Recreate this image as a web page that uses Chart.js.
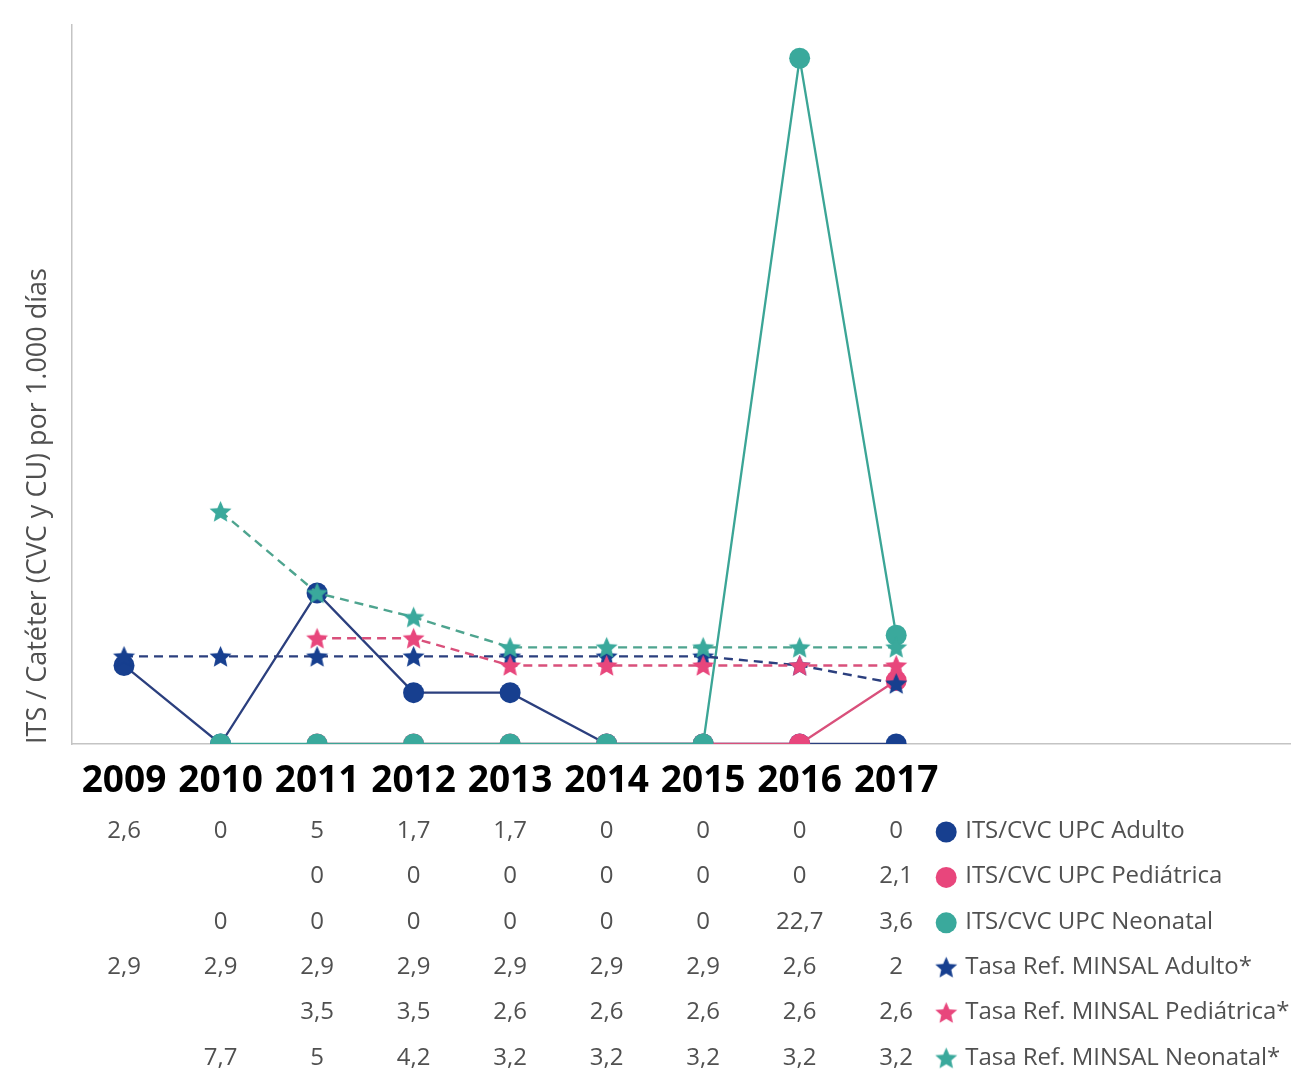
<!DOCTYPE html>
<html>
<head>
<meta charset="utf-8">
<script src="https://cdn.jsdelivr.net/npm/chart.js@4/dist/chart.umd.min.js"></script>
<style>
  html, body { margin: 0; padding: 0; background: #fff; }
  #wrap { width: 1313px; height: 1081px; position: relative; }
</style>
</head>
<body>
<div id="wrap"><canvas id="c"></canvas></div>
<script>
// Years on the horizontal axis
const years = ['2009', '2010', '2011', '2012', '2013', '2014', '2015', '2016', '2017'];

// ITS / CVC rates per 1.000 catheter days
const adulto       = [2.6, 0, 5, 1.7, 1.7, 0, 0, 0, 0];
const pediatrica   = [null, null, 0, 0, 0, 0, 0, 0, 2.1];
const neonatal     = [null, 0, 0, 0, 0, 0, 0, 22.7, 3.6];

// MINSAL reference rates
const refAdulto     = [2.9, 2.9, 2.9, 2.9, 2.9, 2.9, 2.9, 2.6, 2];
const refPediatrica = [null, null, 3.5, 3.5, 2.6, 2.6, 2.6, 2.6, 2.6];
const refNeonatal   = [null, 7.7, 5, 4.2, 3.2, 3.2, 3.2, 3.2, 3.2];

const seriesNames = [
  'ITS/CVC UPC Adulto',
  'ITS/CVC UPC Pediátrica',
  'ITS/CVC UPC Neonatal',
  'Tasa Ref. MINSAL Adulto*',
  'Tasa Ref. MINSAL Pediátrica*',
  'Tasa Ref. MINSAL Neonatal*'
];

const BLUE = '#173f8f', BLUE_LINE = '#2b3f7e';
const PINK = '#e8467c', PINK_LINE = '#d9507b';
const TEAL = '#3aa99c', TEAL_LINE = '#3ba596', TEAL_DASH = '#4ea48f';
const TEXT = '#505050';

// Filled five-point star used as a point style
function starImage(color, r) {
  const size = Math.ceil(r * 2 + 2);
  const cv = document.createElement('canvas');
  cv.width = size; cv.height = size;
  const g = cv.getContext('2d');
  const cx = size / 2, cy = size / 2 + r * 0.08, inner = r * 0.46;
  g.beginPath();
  for (let k = 0; k < 10; k++) {
    const rad = k % 2 === 0 ? r : inner;
    const a = -Math.PI / 2 + k * Math.PI / 5;
    const px = cx + rad * Math.cos(a), py = cy + rad * Math.sin(a);
    if (k === 0) g.moveTo(px, py); else g.lineTo(px, py);
  }
  g.closePath();
  g.fillStyle = color;
  g.fill();
  return cv;
}

const starBlue = starImage(BLUE, 11.5);
const starPink = starImage(PINK, 11.5);
const starTeal = starImage(TEAL, 11.5);

const toPoints = arr => arr.map((v, i) => ({ x: i, y: v }));

function circleSet(label, arr, color, lineColor, order) {
  return {
    label, data: toPoints(arr), order,
    borderColor: lineColor, borderWidth: 2.3,
    pointStyle: 'circle', pointRadius: 10.5, pointHoverRadius: 10.5,
    pointBackgroundColor: color, pointBorderColor: color, pointBorderWidth: 0,
    tension: 0, fill: false
  };
}
function starSet(label, arr, img, lineColor, order) {
  return {
    label, data: toPoints(arr), order,
    borderColor: lineColor, borderWidth: 2.4, borderDash: [9, 6],
    pointStyle: img, pointRadius: 11, pointHoverRadius: 11,
    tension: 0, fill: false
  };
}

const tableRows = [
  { values: adulto,        marker: 'circle', color: BLUE },
  { values: pediatrica,    marker: 'circle', color: PINK },
  { values: neonatal,      marker: 'circle', color: TEAL },
  { values: refAdulto,     marker: starBlue },
  { values: refPediatrica, marker: starPink },
  { values: refNeonatal,   marker: starTeal }
];

const fmt = v => String(v).replace('.', ',');

// Data table with legend keys under the x axis
const tablePlugin = {
  id: 'dataTable',
  afterDraw(chart) {
    const { ctx, chartArea, scales: { x } } = chart;
    const rowTop = chartArea.bottom + 87;
    const rowStep = 45.4;
    const keyX = x.getPixelForValue(8) + 50;
    ctx.save();
    ctx.font = '24px "Open Sans"';
    ctx.textBaseline = 'middle';
    tableRows.forEach((row, r) => {
      const y = rowTop + r * rowStep;
      ctx.textAlign = 'center';
      ctx.fillStyle = TEXT;
      row.values.forEach((v, i) => {
        if (v === null) return;
        ctx.fillText(fmt(v), x.getPixelForValue(i), y);
      });
      if (row.marker === 'circle') {
        ctx.beginPath();
        ctx.arc(keyX, y + 1, 10.5, 0, Math.PI * 2);
        ctx.fillStyle = row.color;
        ctx.fill();
      } else {
        const img = row.marker;
        ctx.drawImage(img, keyX - img.width / 2, y - img.height / 2);
      }
      ctx.fillStyle = TEXT;
      ctx.textAlign = 'left';
      ctx.fillText(seriesNames[r], keyX + 19, y);
    });
    ctx.restore();
  }
};

new Chart(document.getElementById('c'), {
  type: 'line',
  data: {
    datasets: [
      circleSet(seriesNames[0], adulto, BLUE, BLUE_LINE, 5),
      circleSet(seriesNames[1], pediatrica, PINK, PINK_LINE, 4),
      circleSet(seriesNames[2], neonatal, TEAL, TEAL_LINE, 3),
      starSet(seriesNames[3], refAdulto, starBlue, BLUE_LINE, 2),
      starSet(seriesNames[4], refPediatrica, starPink, PINK_LINE, 1),
      starSet(seriesNames[5], refNeonatal, starTeal, TEAL_DASH, 0)
    ]
  },
  options: {
    responsive: true,
    maintainAspectRatio: false,
    animation: false,
    layout: { padding: { top: 25, right: 23, left: 0, bottom: 0 } },
    plugins: { legend: { display: false }, tooltip: { enabled: false } },
    scales: {
      x: {
        type: 'linear',
        min: -0.539,
        max: 12.08,
        grid: { display: false, drawTicks: false },
        border: { color: '#c4c4c4', width: 1.5 },
        afterBuildTicks: axis => { axis.ticks = years.map((_, i) => ({ value: i })); },
        afterFit: axis => { axis.height = 337; },
        ticks: {
          autoSkip: false, maxRotation: 0, minRotation: 0,
          padding: 15,
          color: '#000000',
          font: { family: '"Open Sans"', size: 37, weight: 'bold' },
          callback: v => years[v] ?? ''
        }
      },
      y: {
        min: 0,
        max: 23.8,
        grid: { display: false, drawTicks: false },
        border: { color: '#c4c4c4', width: 1.5 },
        ticks: { display: false },
        afterFit: axis => { axis.width = 72; },
        title: {
          display: true,
          text: 'ITS / Catéter (CVC y CU) por 1.000 días',
          align: 'start',
          color: TEXT,
          font: { family: '"Open Sans"', size: 27 },
          padding: { top: 22, bottom: 0 }
        }
      }
    }
  },
  plugins: [tablePlugin]
});
</script>
</body>
</html>
